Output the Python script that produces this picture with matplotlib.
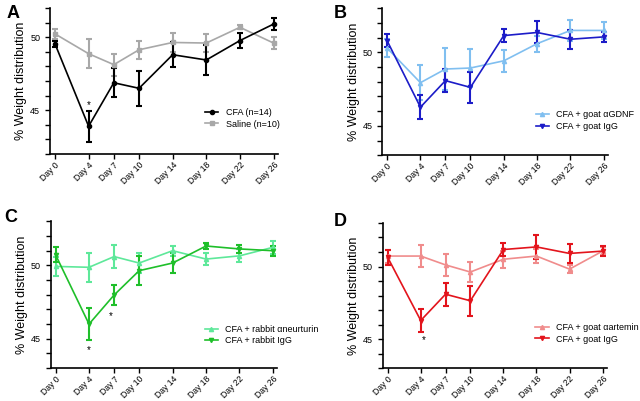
import matplotlib
matplotlib.use("Agg")
import matplotlib.pyplot as plt
from matplotlib.ticker import MultipleLocator, FixedLocator
from matplotlib.lines import Line2D

plt.rcParams['font.family'] = ['Liberation Sans', 'DejaVu Sans']

days = [0, 4, 7, 10, 14, 18, 22, 26]
day_labels = ["Day 0", "Day 4", "Day 7", "Day 10", "Day 14", "Day 18", "Day 22", "Day 26"]

# Panel A
cfa_mean = [49.55, 43.9, 46.88, 46.5, 48.8, 48.44, 49.77, 50.9]
cfa_err = [0.22, 1.07, 1.0, 1.2, 0.85, 1.0, 0.5, 0.4]
saline_mean = [50.23, 48.87, 48.12, 49.14, 49.64, 49.6, 50.68, 49.6]
saline_err = [0.35, 1.0, 0.75, 0.6, 0.65, 0.6, 0.15, 0.4]

# Panel B
gdnf_mean = [50.3, 47.94, 48.87, 48.94, 49.43, 50.6, 51.5, 51.5]
gdnf_err = [0.6, 1.2, 1.45, 1.3, 0.75, 0.55, 0.7, 0.55]
goatigg_b_mean = [50.8, 46.27, 48.08, 47.62, 51.15, 51.36, 50.9, 51.06]
goatigg_b_err = [0.45, 0.8, 0.77, 1.05, 0.42, 0.75, 0.65, 0.35]

# Panel C
neurturin_mean = [49.93, 49.87, 50.6, 50.16, 51.0, 50.43, 50.65, 51.23]
neurturin_err = [0.65, 1.0, 0.8, 0.7, 0.35, 0.4, 0.45, 0.45]
rabbitigg_mean = [50.72, 46.0, 47.98, 49.64, 50.16, 51.32, 51.12, 51.0]
rabbitigg_err = [0.5, 1.1, 0.7, 0.97, 0.65, 0.23, 0.3, 0.35]

# Panel D
artemin_mean = [50.72, 50.72, 50.11, 49.62, 50.5, 50.72, 49.82, 51.06]
artemin_err = [0.45, 0.75, 0.75, 0.7, 0.6, 0.48, 0.3, 0.3]
goatigg_d_mean = [50.63, 46.28, 48.09, 47.64, 51.17, 51.35, 50.9, 51.06]
goatigg_d_err = [0.52, 0.8, 0.8, 1.05, 0.43, 0.8, 0.65, 0.34]

fig = plt.figure(figsize=(6.4, 4.01), dpi=100)

panels = [
    dict(rect=[0.078, 0.616, 0.356, 0.364], ylim=(42, 52), letter="A", lpos=(0.010, 0.988),
         series=[(saline_mean, saline_err, "#a8a8a8", "s", "Saline (n=10)"),
                 (cfa_mean, cfa_err, "#000000", "o", "CFA (n=14)")],
         order=[1, 0], leg=(0.66, 0.245),
         stars=[(4, 45.35)]),
    dict(rect=[0.597, 0.613, 0.353, 0.366], ylim=(43, 53), letter="B", lpos=(0.522, 0.988),
         series=[(gdnf_mean, gdnf_err, "#80bff0", "^", "CFA + goat \u03b1GDNF"),
                 (goatigg_b_mean, goatigg_b_err, "#1c1cc8", "v", "CFA + goat IgG")],
         order=[0, 1], leg=(0.66, 0.235), stars=[]),
    dict(rect=[0.079, 0.082, 0.354, 0.366], ylim=(43, 53), letter="C", lpos=(0.006, 0.478),
         series=[(neurturin_mean, neurturin_err, "#5ee89a", "^", "CFA + rabbit \u03b1neurturin"),
                 (rabbitigg_mean, rabbitigg_err, "#1fbf2a", "v", "CFA + rabbit IgG")],
         order=[0, 1], leg=(0.66, 0.225),
         stars=[(4, 44.25), (6.6, 46.55)]),
    dict(rect=[0.598, 0.082, 0.350, 0.362], ylim=(43, 53), letter="D", lpos=(0.522, 0.470),
         series=[(artemin_mean, artemin_err, "#f08c8c", "^", "CFA + goat \u03b1artemin"),
                 (goatigg_d_mean, goatigg_d_err, "#e3141c", "v", "CFA + goat IgG")],
         order=[0, 1], leg=(0.66, 0.24),
         stars=[(4.4, 44.95)]),
]

for p in panels:
    ax = fig.add_axes(p["rect"])
    handles = []
    for mean, err, color, marker, label in p["series"]:
        ax.errorbar(days, mean, yerr=err, color=color, marker=marker, markersize=3,
                    linewidth=1.2, elinewidth=1.5, capsize=2.2, capthick=1.5)
        handles.append(Line2D([], [], color=color, marker=marker, markersize=3,
                              linewidth=1.2, label=label))
    for sx, sy in p["stars"]:
        ax.text(sx, sy, "*", ha="center", va="center", fontsize=7)
    ax.set_xlim(-0.6, 26.5)
    ax.set_ylim(*p["ylim"])
    ax.set_xticks(days)
    ax.set_xticklabels(day_labels, rotation=45, ha="right", rotation_mode="anchor", fontsize=6.2)
    ax.yaxis.set_major_locator(FixedLocator([45, 50]))
    ax.yaxis.set_minor_locator(MultipleLocator(1))
    ax.tick_params(axis="both", which="both", direction="out", width=1)
    ax.tick_params(axis="y", labelsize=6.5)
    ax.tick_params(axis="both", which="major", length=3.5)
    ax.tick_params(axis="x", which="major", pad=1)
    ax.tick_params(axis="y", which="minor", length=3.5)
    for s in ["top", "right"]:
        ax.spines[s].set_visible(False)
    for s in ["left", "bottom"]:
        ax.spines[s].set_linewidth(1.2)
    ax.set_ylabel("% Weight distribution", fontsize=9, labelpad=2)
    hs = [handles[i] for i in p["order"]]
    ax.legend(hs, [h.get_label() for h in hs], loc="center left", bbox_to_anchor=p["leg"],
              frameon=False, fontsize=6.5, handlelength=1.5, handletextpad=0.8,
              labelspacing=0.3, borderpad=0)
    fig.text(p["lpos"][0], p["lpos"][1], p["letter"], fontsize=13, fontweight="bold",
             ha="left", va="top")

fig.savefig("out.png", dpi=100)
